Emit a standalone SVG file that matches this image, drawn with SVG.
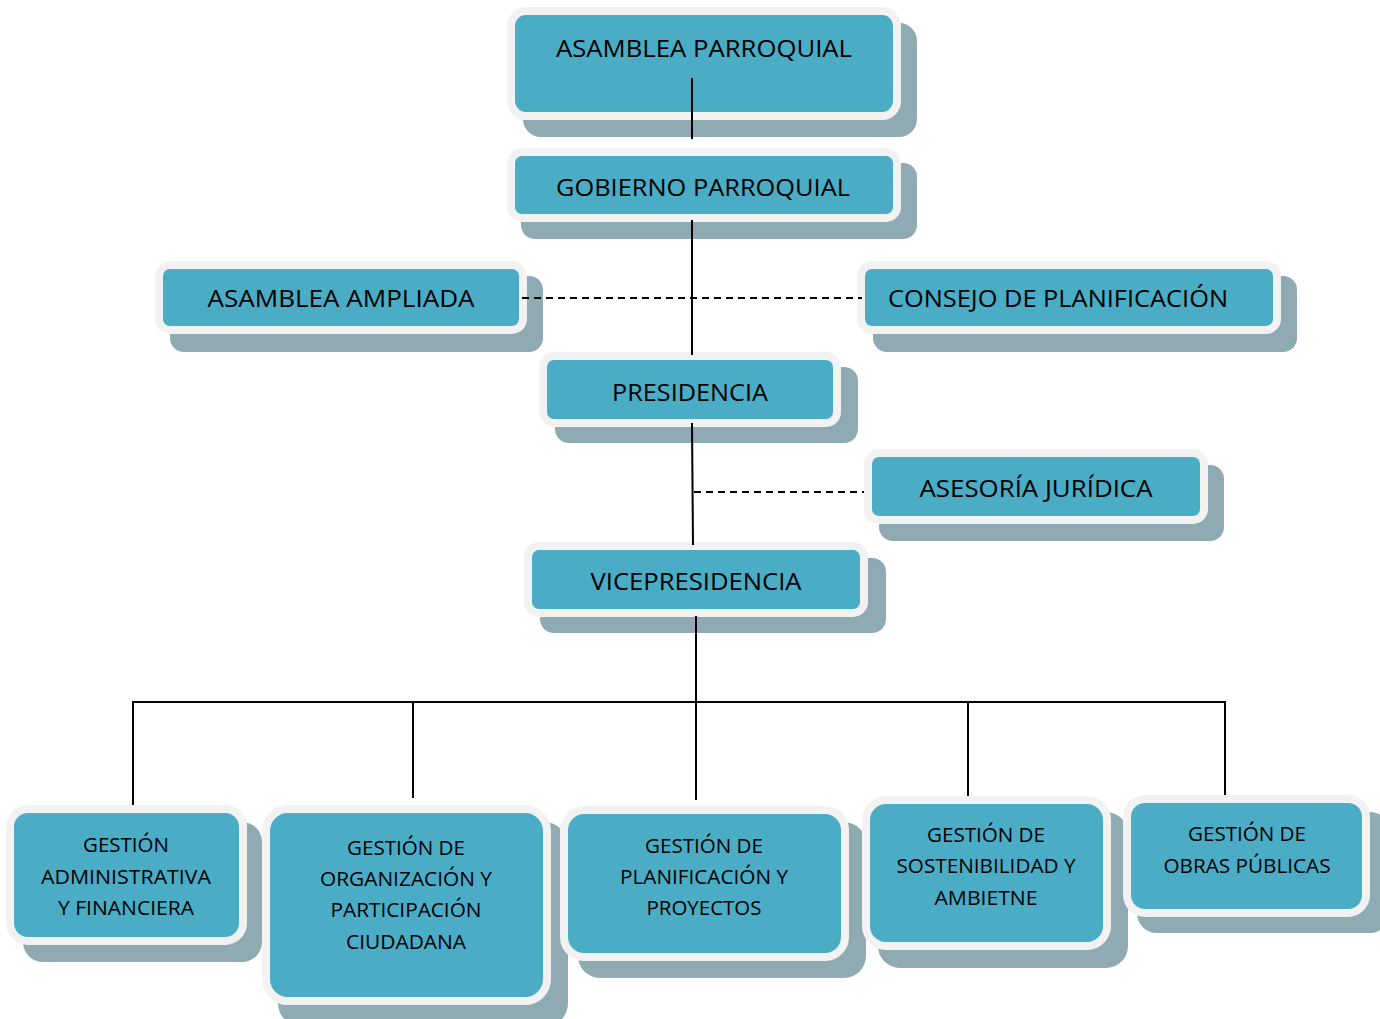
<svg xmlns="http://www.w3.org/2000/svg" width="1380" height="1019" viewBox="0 0 1380 1019">
<style>
.sh{fill:#8FAAB3}
.bx{fill:#4BACC6;stroke:#F2F2F2;stroke-width:8}
.t{font-family:"Open Sans","Liberation Sans",sans-serif;font-size:24px;fill:#000;text-anchor:middle}
.s{font-family:"Open Sans","Liberation Sans",sans-serif;font-size:20px;fill:#000;text-anchor:middle}
.ln{stroke:#000;stroke-width:2;fill:none}
.dl{stroke:#000;stroke-width:2;fill:none;stroke-dasharray:7 5}
</style>
<rect width="1380" height="1019" fill="#fff"/>
<g id="n1">
<rect class="sh" x="523" y="23" width="394" height="114" rx="18"/>
<rect class="bx" x="511" y="11" width="386" height="105" rx="15"/>
<text class="t" x="704" y="57" textLength="296" lengthAdjust="spacingAndGlyphs">ASAMBLEA PARROQUIAL</text>
</g>
<g id="n2">
<rect class="sh" x="521" y="163" width="396" height="76" rx="14"/>
<rect class="bx" x="511" y="152" width="386" height="66" rx="11"/>
<text class="t" x="703" y="196" textLength="294" lengthAdjust="spacingAndGlyphs">GOBIERNO PARROQUIAL</text>
</g>
<g id="n3">
<rect class="sh" x="170" y="276" width="373" height="76" rx="14"/>
<rect class="bx" x="159" y="265" width="364" height="65" rx="11"/>
<text class="t" x="341" y="307" textLength="267" lengthAdjust="spacingAndGlyphs">ASAMBLEA AMPLIADA</text>
</g>
<g id="n4">
<rect class="sh" x="873" y="276" width="424" height="76" rx="14"/>
<rect class="bx" x="861" y="265" width="416" height="65" rx="11"/>
<text class="t" x="1058" y="307" textLength="340" lengthAdjust="spacingAndGlyphs">CONSEJO DE PLANIFICACIÓN</text>
</g>
<g id="n5">
<rect class="sh" x="555" y="367" width="303" height="76" rx="14"/>
<rect class="bx" x="543" y="356" width="294" height="67" rx="11"/>
<text class="t" x="690" y="401" textLength="156" lengthAdjust="spacingAndGlyphs">PRESIDENCIA</text>
</g>
<g id="n6">
<rect class="sh" x="879" y="465" width="345" height="76" rx="14"/>
<rect class="bx" x="868" y="453" width="336" height="67" rx="11"/>
<text class="t" x="1036" y="497" textLength="233" lengthAdjust="spacingAndGlyphs">ASESORÍA JURÍDICA</text>
</g>
<g id="n7">
<rect class="sh" x="540" y="558" width="346" height="75" rx="14"/>
<rect class="bx" x="528" y="546" width="336" height="67" rx="11"/>
<text class="t" x="696" y="590" textLength="211" lengthAdjust="spacingAndGlyphs">VICEPRESIDENCIA</text>
</g>
<g id="connectors">
<line class="ln" x1="692" y1="78" x2="692" y2="139"/>
<line class="ln" x1="692" y1="220" x2="692" y2="355"/>
<line class="dl" x1="522" y1="298" x2="862" y2="298"/>
<line class="ln" x1="692" y1="423" x2="693" y2="545"/>
<line class="dl" x1="694" y1="492" x2="864" y2="492"/>
<line class="ln" x1="696" y1="616" x2="696" y2="702"/>
<line class="ln" x1="132" y1="702" x2="1226" y2="702"/>
<line class="ln" x1="133" y1="702" x2="133" y2="808"/>
<line class="ln" x1="413" y1="702" x2="413" y2="798"/>
<line class="ln" x1="696" y1="702" x2="696" y2="800"/>
<line class="ln" x1="968" y1="702" x2="968" y2="800"/>
<line class="ln" x1="1225" y1="702" x2="1225" y2="796"/>
</g>
<g id="b1">
<rect class="sh" x="23" y="822" width="239" height="140" rx="20"/>
<rect class="bx" x="10" y="809" width="233" height="132" rx="18"/>
<text class="s" x="126" y="852" textLength="86" lengthAdjust="spacingAndGlyphs">GESTIÓN</text>
<text class="s" x="126" y="884" textLength="170" lengthAdjust="spacingAndGlyphs">ADMINISTRATIVA</text>
<text class="s" x="126" y="915" textLength="136" lengthAdjust="spacingAndGlyphs">Y FINANCIERA</text>
</g>
<g id="b2">
<rect class="sh" x="278" y="822" width="290" height="205" rx="24"/>
<rect class="bx" x="266" y="809" width="281" height="192" rx="22"/>
<text class="s" x="406" y="855" textLength="118" lengthAdjust="spacingAndGlyphs">GESTIÓN DE</text>
<text class="s" x="406" y="886" textLength="172" lengthAdjust="spacingAndGlyphs">ORGANIZACIÓN Y</text>
<text class="s" x="406" y="917" textLength="151" lengthAdjust="spacingAndGlyphs">PARTICIPACIÓN</text>
<text class="s" x="406" y="949" textLength="120" lengthAdjust="spacingAndGlyphs">CIUDADANA</text>
</g>
<g id="b3">
<rect class="sh" x="578" y="822" width="288" height="156" rx="22"/>
<rect class="bx" x="564" y="810" width="281" height="147" rx="20"/>
<text class="s" x="704" y="853" textLength="118" lengthAdjust="spacingAndGlyphs">GESTIÓN DE</text>
<text class="s" x="704" y="884" textLength="168" lengthAdjust="spacingAndGlyphs">PLANIFICACIÓN Y</text>
<text class="s" x="704" y="915" textLength="115" lengthAdjust="spacingAndGlyphs">PROYECTOS</text>
</g>
<g id="b4">
<rect class="sh" x="878" y="812" width="250" height="156" rx="22"/>
<rect class="bx" x="866" y="800" width="241" height="146" rx="20"/>
<text class="s" x="986" y="842" textLength="118" lengthAdjust="spacingAndGlyphs">GESTIÓN DE</text>
<text class="s" x="986" y="873" textLength="179" lengthAdjust="spacingAndGlyphs">SOSTENIBILIDAD Y</text>
<text class="s" x="986" y="905" textLength="103" lengthAdjust="spacingAndGlyphs">AMBIETNE</text>
</g>
<g id="b5">
<rect class="sh" x="1137" y="812" width="253" height="121" rx="20"/>
<rect class="bx" x="1127" y="799" width="239" height="114" rx="18"/>
<text class="s" x="1247" y="841" textLength="118" lengthAdjust="spacingAndGlyphs">GESTIÓN DE</text>
<text class="s" x="1247" y="873" textLength="167" lengthAdjust="spacingAndGlyphs">OBRAS PÚBLICAS</text>
</g>
</svg>
